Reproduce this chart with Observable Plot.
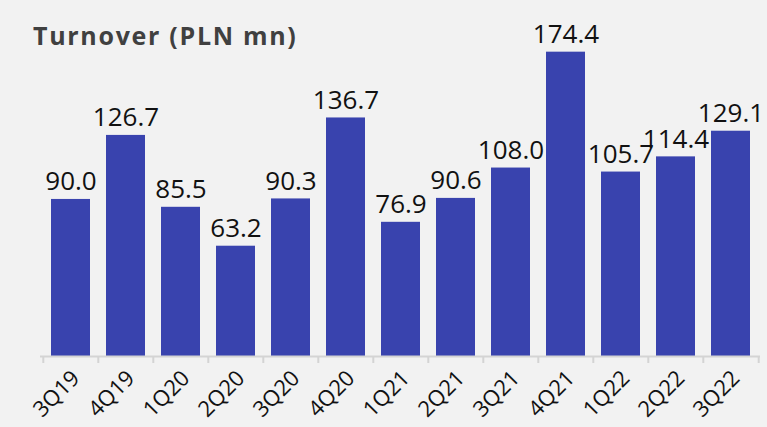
<!DOCTYPE html>
<html>
<head>
<meta charset="utf-8">
<script src="https://cdn.jsdelivr.net/npm/d3@7"></script>
<script src="https://cdn.jsdelivr.net/npm/@observablehq/plot@0.6"></script>
<style>
  html, body { margin: 0; padding: 0; background: #f2f2f2; }
  #wrap { position: relative; width: 767px; height: 427px; overflow: hidden; }
  #title {
    position: absolute; left: 33px; top: 23px;
    font-family: "Open Sans", sans-serif; font-weight: 700; font-size: 25px;
    line-height: 1; letter-spacing: 1.7px;
    color: #404040; white-space: nowrap;
  }
  #wrap svg { display: block; }
</style>
</head>
<body>
<div id="wrap">
  <div id="chart"></div>
  <div id="title">Turnover (PLN mn)</div>
</div>
<script>
// Quarterly turnover, PLN mn
const quarters = ["3Q19", "4Q19", "1Q20", "2Q20", "3Q20", "4Q20", "1Q21", "2Q21", "3Q21", "4Q21", "1Q22", "2Q22", "3Q22"];
const turnover = [90.0, 126.7, 85.5, 63.2, 90.3, 136.7, 76.9, 90.6, 108.0, 174.4, 105.7, 114.4, 129.1];

const rows = quarters.map((q, i) => ({quarter: q, value: turnover[i]}));

const W = 767, H = 427;
const mL = 40, mR = 7, mT = 7, mB = 71;
const yMax = 200;
const step = (W - mL - mR) / quarters.length;       // band step in px
const pxPerUnit = (H - mT - mB) / yMax;
const tickLen = 7 / pxPerUnit;                       // boundary tick length, data units

const chart = Plot.plot({
  width: W,
  height: H,
  marginLeft: mL,
  marginRight: mR,
  marginTop: mT,
  marginBottom: mB,
  style: {background: "#f2f2f2", overflow: "visible"},
  x: {domain: quarters, paddingInner: 0.3, paddingOuter: 0.15, label: null},
  y: {domain: [0, yMax], axis: null},
  marks: [
    Plot.barY(rows, {x: "quarter", y: "value", fill: "#3943ae"}),
    Plot.ruleY([0], {stroke: "#d4d4d4", strokeWidth: 2}),
    // ticks on band boundaries
    Plot.ruleX(quarters, {x: d => d, dx: -step / 2, y1: 0, y2: -tickLen, stroke: "#d4d4d4", strokeWidth: 2}),
    Plot.ruleX(quarters.slice(-1), {x: d => d, dx: step / 2, y1: 0, y2: -tickLen, stroke: "#d4d4d4", strokeWidth: 2}),
    Plot.text(rows, {
      x: "quarter", y: "value", text: d => d.value.toFixed(1),
      lineAnchor: "bottom", dy: -9,
      fontFamily: "Open Sans, sans-serif", fontSize: 26, fill: "#111"
    }),
    Plot.axisX({
      tickSize: 0, tickRotate: -45, tickPadding: 18, dx: 5,
      fontFamily: "Open Sans, sans-serif", fontSize: 22, fill: "#111", label: null
    })
  ]
});
document.getElementById("chart").appendChild(chart);
</script>
</body>
</html>
